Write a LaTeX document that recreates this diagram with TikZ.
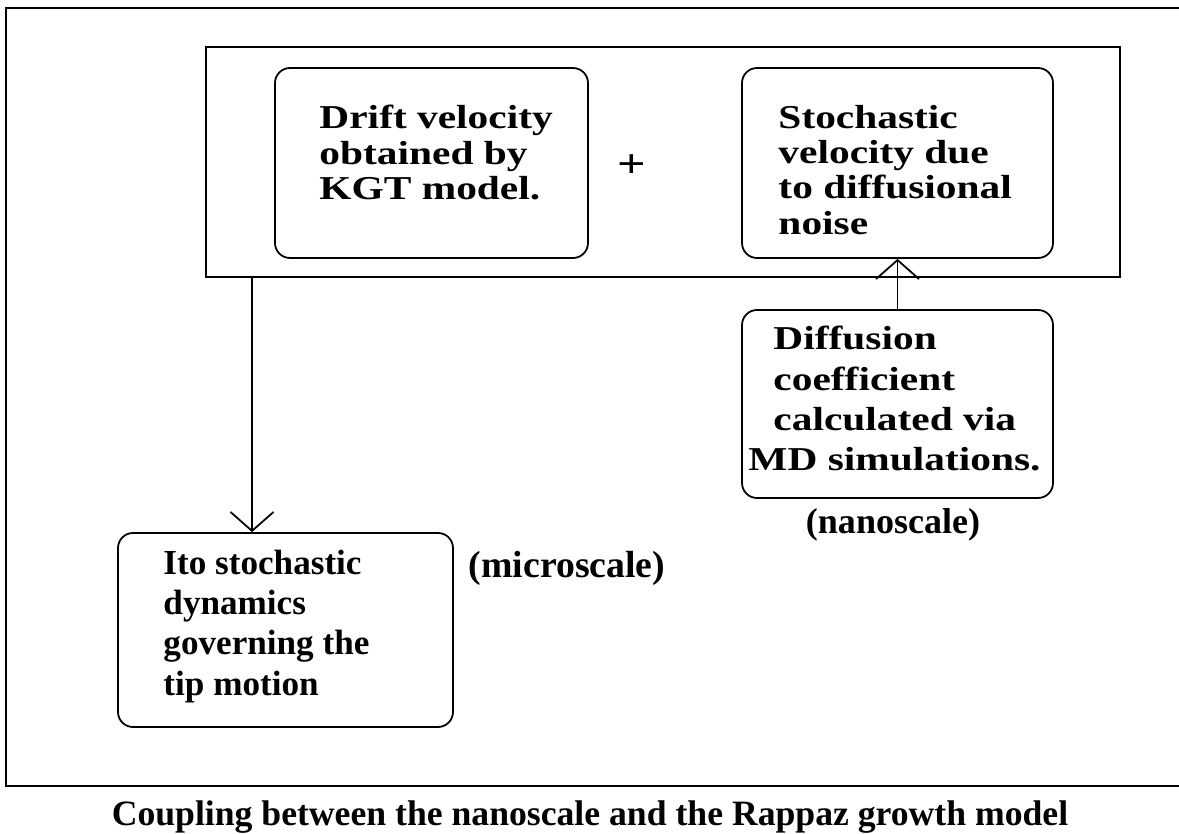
\documentclass[tikz,border=0pt]{standalone}
\usepackage{fontspec}
\setmainfont{Liberation Serif}
\newfontfamily\widefont{Liberation Serif}[FakeStretch=1.24]
\usetikzlibrary{arrows.meta,fit,positioning}
\tikzset{
  frame/.style={draw,line width=.9pt},
  sqbox/.style={draw,line width=1pt,inner sep=0pt},
  rbox/.style={draw,line width=1pt,rounded corners=.3cm,inner sep=0pt},
  boxtxt/.style={font=\widefont\bfseries\fontsize{19}{20}\selectfont,align=left,anchor=north west,inner sep=0pt},
  itotxt/.style={font=\bfseries\fontsize{20}{22.8}\selectfont,align=left,anchor=north west,inner sep=0pt},
  scalelbl/.style={font=\bfseries\fontsize{20.5}{24}\selectfont,inner sep=0pt},
  link/.style={-{Straight Barb[length=3.8mm,width=8.6mm]},line width=1pt},
}
\begin{document}
\begin{tikzpicture}[x=.02cm,y=-.02cm]
  \useasboundingbox (0,0) rectangle (1179,834);
  \draw[frame] (6,8) rectangle (1200,786);

  % velocity terms
  \node[sqbox,fit={(206,47) (1120,277)}] (vel) {};
  \node[rbox,fit={(275,68) (588,258)}] (drift) {};
  \node[rbox,fit={(742,68) (1053,258)}] (stoch) {};
  \node[font=\widefont\bfseries\fontsize{23}{24}\selectfont] (plus) at (632,166) {+};
  \node[boxtxt] (drifttxt) at ([shift={(45,38)}]drift.north west) {Drift velocity\\obtained by\\KGT model.};
  \node[boxtxt] (stochtxt) at ([shift={(37,38)}]stoch.north west) {Stochastic\\velocity due\\to diffusional\\noise};

  % nanoscale input
  \node[rbox,fit={(742,310) (1053,498)}] (diff) {};
  \node[boxtxt,font=\widefont\bfseries\fontsize{19}{22.8}\selectfont] (difftxt) at ([shift={(32,17)}]diff.north west) {Diffusion\\coefficient\\calculated via\\\hspace*{-.5cm}MD simulations.};
  \node[scalelbl] (nano) at (893,525) {(nanoscale)};

  % microscale
  \coordinate (drop) at (252,0);
  \node[rbox,fit={(118,533) (453,727)}] (ito) {};
  \node[itotxt] (itotxt) at ([shift={(46,18)}]ito.north west) {Ito stochastic\\dynamics\\governing the\\tip motion};
  \node[scalelbl,font=\bfseries\fontsize{21.5}{24}\selectfont] (micro) at (567,568) {(microscale)};

  \draw[link] (diff.north) -- (stoch.south);
  \draw[link] (vel.south -| drop) -- (ito.north -| drop);

  \node[font=\bfseries\fontsize{20.3}{24}\selectfont,anchor=base] (caption) at (590,825) {Coupling between the nanoscale and the Rappaz growth model};
\end{tikzpicture}
\end{document}
